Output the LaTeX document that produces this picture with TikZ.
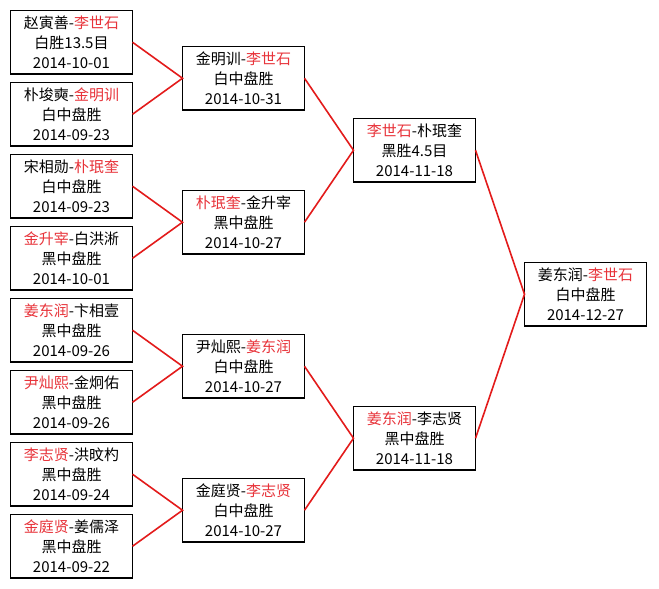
\documentclass[tikz,border=0pt]{standalone}
\usepackage{fontspec}
\usepackage{xcolor}
\usepackage{tikz}
\usetikzlibrary{positioning,calc}
\newfontfamily\cjk{Noto Sans CJK SC}
\definecolor{winred}{HTML}{E8333A}
\definecolor{linkred}{HTML}{E31B1B}
\newcommand{\win}[1]{\textcolor{winred}{#1}}

\begin{document}
\begin{tikzpicture}[x=1pt,y=1pt,every node/.style={font=\cjk\fontsize{15}{20}\selectfont},
    game/.style={draw=black,line width=1.5pt,fill=white,minimum width=122pt,minimum height=63.5pt,align=center,inner sep=0pt,outer sep=0pt},
    link/.style={linkred,line width=1.6pt}]
  \fill[white] (0,0) rectangle (659,-589);
  \useasboundingbox (0,0) rectangle (659,-589);
  % first round
  \node[game,anchor=north west] (r1) at (10.5,-10.5) {赵寅善-\win{李世石}\\白胜13.5目\\2014-10-01};
  \node[game,below=8.5pt of r1] (r2) {朴埈奭-\win{金明训}\\白中盘胜\\2014-09-23};
  \node[game,below=8.5pt of r2] (r3) {宋相勋-\win{朴珉奎}\\白中盘胜\\2014-09-23};
  \node[game,below=8.5pt of r3] (r4) {\win{金升宰}-白洪淅\\黑中盘胜\\2014-10-01};
  \node[game,below=8.5pt of r4] (r5) {\win{姜东润}-卞相壹\\黑中盘胜\\2014-09-26};
  \node[game,below=8.5pt of r5] (r6) {\win{尹灿熙}-金炯佑\\黑中盘胜\\2014-09-26};
  \node[game,below=8.5pt of r6] (r7) {\win{李志贤}-洪旼杓\\黑中盘胜\\2014-09-24};
  \node[game,below=8.5pt of r7] (r8) {\win{金庭贤}-姜儒泽\\黑中盘胜\\2014-09-22};
  % quarter finals
  \coordinate (c1) at ($(r1.east)!0.5!(r2.east)$);
  \coordinate (c2) at ($(r3.east)!0.5!(r4.east)$);
  \coordinate (c3) at ($(r5.east)!0.5!(r6.east)$);
  \coordinate (c4) at ($(r7.east)!0.5!(r8.east)$);
  \node[game,right=50pt of c1] (q1) {金明训-\win{李世石}\\白中盘胜\\2014-10-31};
  \node[game,right=50pt of c2] (q2) {\win{朴珉奎}-金升宰\\黑中盘胜\\2014-10-27};
  \node[game,right=50pt of c3] (q3) {尹灿熙-\win{姜东润}\\白中盘胜\\2014-10-27};
  \node[game,right=50pt of c4] (q4) {金庭贤-\win{李志贤}\\白中盘胜\\2014-10-27};
  % semi finals
  \coordinate (c5) at ($(q1.east)!0.5!(q2.east)$);
  \coordinate (c6) at ($(q3.east)!0.5!(q4.east)$);
  \node[game,right=49pt of c5] (s1) {\win{李世石}-朴珉奎\\黑胜4.5目\\2014-11-18};
  \node[game,right=49pt of c6] (s2) {\win{姜东润}-李志贤\\黑中盘胜\\2014-11-18};
  % final
  \coordinate (c7) at ($(s1.east)!0.5!(s2.east)$);
  \node[game,right=49pt of c7] (fin) {姜东润-\win{李世石}\\白中盘胜\\2014-12-27};
  \draw[link] (r1.east)--(q1.west)--(r2.east);
  \draw[link] (r3.east)--(q2.west)--(r4.east);
  \draw[link] (r5.east)--(q3.west)--(r6.east);
  \draw[link] (r7.east)--(q4.west)--(r8.east);
  \draw[link] (q1.east)--(s1.west)--(q2.east);
  \draw[link] (q3.east)--(s2.west)--(q4.east);
  \draw[link] (s1.east)--(fin.west)--(s2.east);
\end{tikzpicture}
\end{document}
